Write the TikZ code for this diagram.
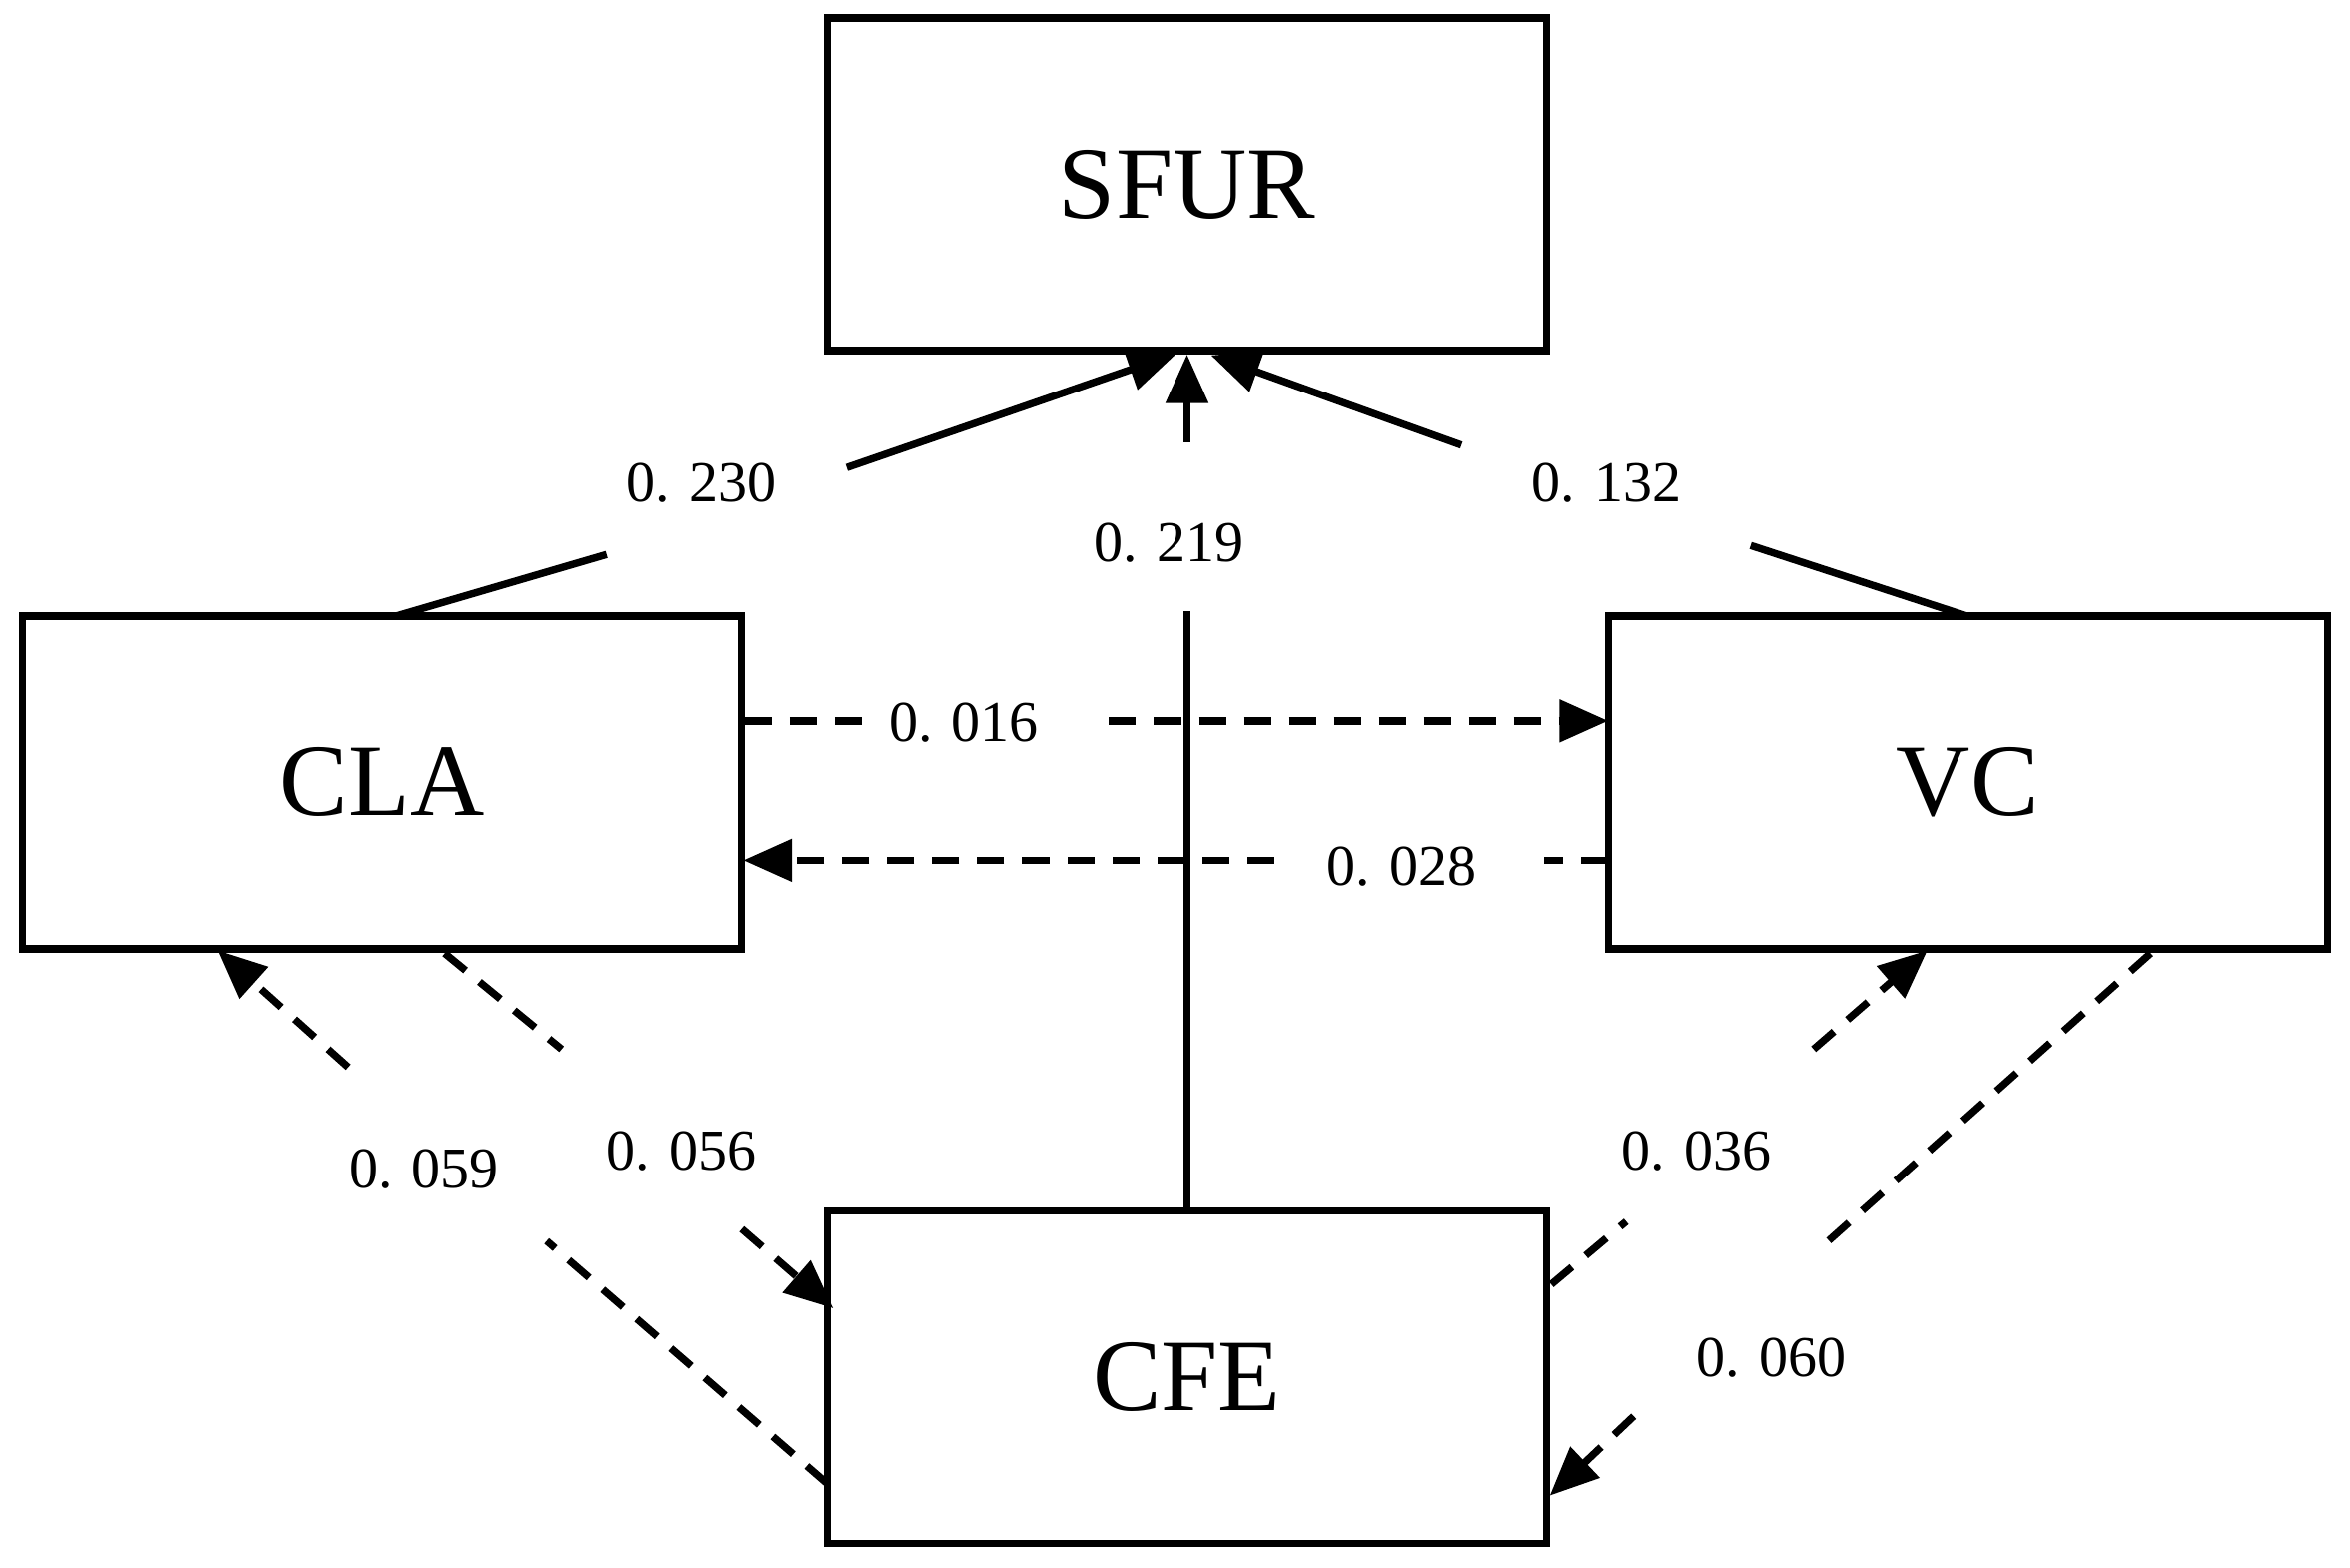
\documentclass[tikz,border=0pt]{standalone}
\usepackage{fontspec}
\setmainfont{Liberation Serif}
\usetikzlibrary{arrows.meta}
\begin{document}
\begin{tikzpicture}[x=0.02cm,y=-0.02cm,
 box/.style={draw,line width=2.8pt,minimum width=9.6cm,minimum height=4.44cm,font=\fontsize{39}{41}\selectfont},
 lab/.style={font=\fontsize{22}{24}\selectfont},
 ln/.style={line width=2.8pt},
 dl/.style={line width=2.8pt,dash pattern=on 0.36cm off 0.24cm},
 ar/.style={-{Triangle[length=0.65cm,width=0.55cm]}}]
\useasboundingbox (0,0) rectangle (1568,1046);
\node[box] (S) at (792,123) {SFUR};
\node[box] (L) at (255,522) {CLA};
\node[box] (V) at (1313,522) {VC};
\node[box] (F) at (792,919) {CFE};
% CLA -> SFUR
\coordinate (a1) at (405,370); \coordinate (a2) at (565,312);
\draw[ln] (265,411) coordinate (a0) -- (a1);
\draw[ln,ar] (a2) -- (785,236) coordinate (a3);
\node[lab] (l1) at (468,322) {0. 230};
% CFE -> SFUR
\coordinate (b1) at (792,408); \coordinate (b2) at (792,295);
\draw[ln] (F.north) -- (b1);
\draw[ln,ar] (b2) -- (S.south);
\node[lab] (l2) at (780,362) {0. 219};
% VC -> SFUR
\coordinate (c1) at (1168,364); \coordinate (c2) at (975,297);
\draw[ln] (1312,411) coordinate (c0) -- (c1);
\draw[ln,ar] (c2) -- (808,237) coordinate (c3);
\node[lab] (l3) at (1072,322) {0. 132};
% CLA -> VC
\coordinate (d1) at (580,481); \coordinate (d2) at (740,481);
\draw[dl] (497,481) -- (d1);
\draw[dl,ar] (d2) -- (1073,481);
\node[lab] (l4) at (643,482) {0. 016};
% VC -> CLA
\coordinate (e1) at (1030,574); \coordinate (e2) at (850,574);
\draw[dl] (1073,574) -- (e1);
\draw[dl,ar] (e2) -- (496,574);
\node[lab] (l5) at (935,578) {0. 028};
% CFE -> CLA
\coordinate (f1) at (365,828); \coordinate (f2) at (232,712);
\draw[dl] (552,990) -- (f1);
\draw[dl,ar] (f2) -- (145,634);
\node[lab] (l6) at (283,780) {0. 059};
% CLA -> CFE
\coordinate (g1) at (375,700); \coordinate (g2) at (495,820);
\draw[dl] (297,636) -- (g1);
\draw[dl,ar] (g2) -- (556,873);
\node[lab] (l7) at (455,768) {0. 056};
% CFE -> VC
\coordinate (h1) at (1085,815); \coordinate (h2) at (1210,700);
\draw[dl] (1035,857) -- (h1);
\draw[dl,ar] (h2) -- (1286,634);
\node[lab] (l8) at (1132,768) {0. 036};
% VC -> CFE
\coordinate (k1) at (1212,835); \coordinate (k2) at (1090,945);
\draw[dl] (1435,636) -- (k1);
\draw[dl,ar] (k2) -- (1034,998);
\node[lab] (l9) at (1182,906) {0. 060};
\end{tikzpicture}
\end{document}
